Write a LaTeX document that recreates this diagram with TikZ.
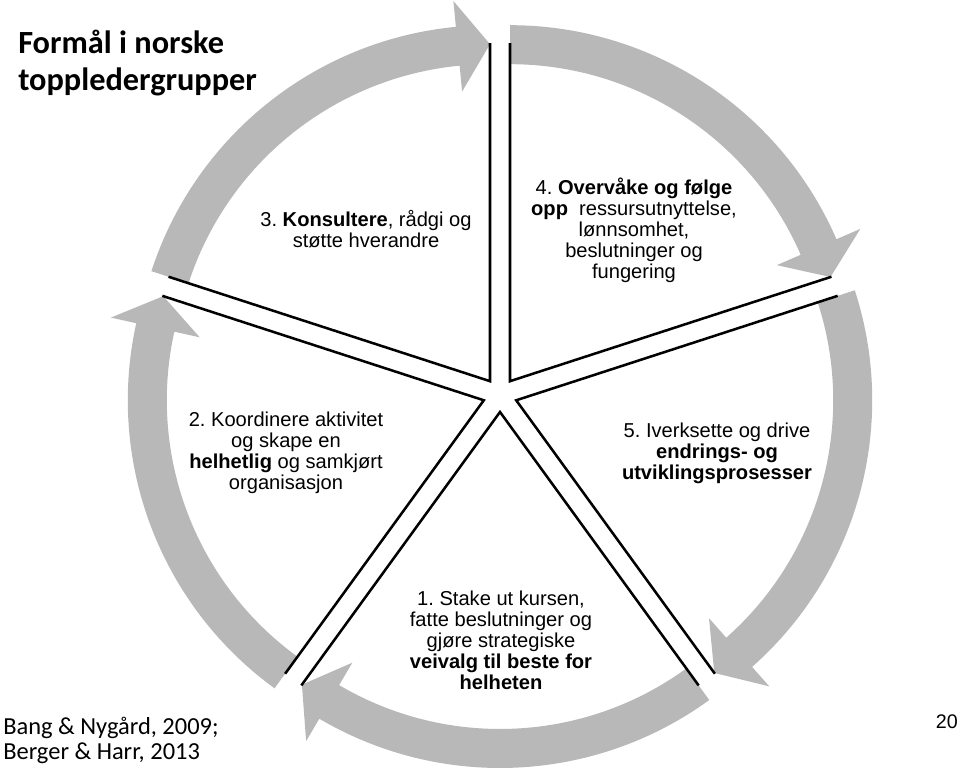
\documentclass[tikz,border=0pt]{standalone}
\usepackage{fontspec}
\setmainfont{Liberation Sans}
\newfontfamily\calibri{Carlito}
\frenchspacing
\definecolor{bandgray}{RGB}{184,184,184}
\tikzset{
  band/.style={fill=bandgray},
  spoke/.style={line width=1.8pt},
  steptext/.style={align=center, inner sep=0pt, font=\fontsize{14.3}{14.9}\selectfont},
}

\begin{document}
\begin{tikzpicture}[x=0.025cm,y=0.025cm]
    \useasboundingbox (0,0) rectangle (960,773);
    % tips of the five slices
    \coordinate (v1) at (500,361);
    \coordinate (v2) at (483.8,372.7);
    \coordinate (v3) at (490,391.8);
    \coordinate (v4) at (510,391.8);
    \coordinate (v5) at (516.2,372.7);
    % grey arrows round the circle
    \fill[band,shift={(v4)}] (90:356) arc[start angle=90,end angle=23.5,radius=356] -- (23.5:382) -- (18:337) -- (23.5:291) -- (23.5:317) arc[start angle=23.5,end angle=90,radius=317] -- cycle;
    \fill[band,shift={(v3)}] (162:356) arc[start angle=162,end angle=95.5,radius=356] -- (95.5:382) -- (90:337) -- (95.5:291) -- (95.5:317) arc[start angle=95.5,end angle=162,radius=317] -- cycle;
    \fill[band,shift={(v2)}] (234:356) arc[start angle=234,end angle=167.5,radius=356] -- (167.5:382) -- (162:337) -- (167.5:291) -- (167.5:317) arc[start angle=167.5,end angle=234,radius=317] -- cycle;
    \fill[band,shift={(v1)}] (306:356) arc[start angle=306,end angle=239.5,radius=356] -- (239.5:382) -- (234:337) -- (239.5:291) -- (239.5:317) arc[start angle=239.5,end angle=306,radius=317] -- cycle;
    \fill[band,shift={(v5)}] (18:356) arc[start angle=18,end angle=-48.5,radius=356] -- (-48.5:382) -- (-54:337) -- (-48.5:291) -- (-48.5:317) arc[start angle=-48.5,end angle=18,radius=317] -- cycle;
    % edges of the slices
    \draw[spoke] (v1) ++(306:338) -- (v1) -- ++(234:338);
    \draw[spoke] (v2) ++(234:338) -- (v2) -- ++(162:338);
    \draw[spoke] (v3) ++(162:338) -- (v3) -- ++(90:338);
    \draw[spoke] (v4) ++(90:338) -- (v4) -- ++(18:338);
    \draw[spoke] (v5) ++(18:338) -- (v5) -- ++(-54:338);
    % texts
    \node[steptext] (s1) at (501,133) {1. Stake ut kursen,\\fatte beslutninger og\\gjøre strategiske\\\textbf{veivalg til beste for}\\\textbf{helheten}};
    \node[steptext] (s2) at (286,320) {2. Koordinere aktivitet\\og skape en\\\textbf{helhetlig} og samkjørt\\organisasjon};
    \node[steptext] (s3) at (366,544) {3. \textbf{Konsultere}, rådgi og\\støtte hverandre};
    \node[steptext] (s4) at (634,543) {4. \textbf{Overvåke og følge}\\\textbf{opp}\ \ ressursutnyttelse,\\lønnsomhet,\\beslutninger og\\fungering};
    \node[steptext] (s5) at (717,320) {5. Iverksette og drive\\\textbf{endrings- og}\\\textbf{utviklingsprosesser}};
    \node[anchor=north west,align=left,inner sep=0pt,font=\calibri\bfseries\fontsize{23}{26.5}\selectfont] (title) at (18,743) {Formål i norske\\toppledergrupper};
    \node[anchor=south west,align=left,inner sep=0pt,font=\calibri\fontsize{17.4}{18.1}\selectfont] (ref) at (3,9) {Bang \& Nygård, 2009;\\Berger \& Harr, 2013};
    \node[anchor=east,inner sep=0pt,font=\fontsize{14}{15}\selectfont] (page) at (958,51) {20};
\end{tikzpicture}
\end{document}
